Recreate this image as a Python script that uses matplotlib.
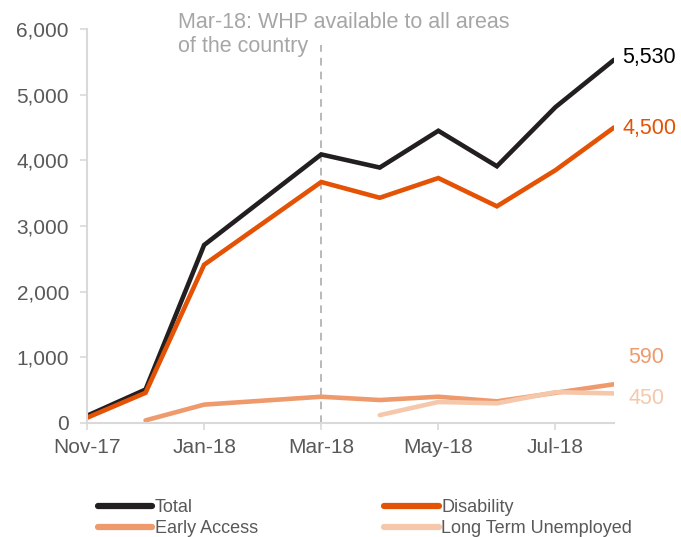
import matplotlib
matplotlib.use("Agg")
import matplotlib.pyplot as plt
import numpy as np

months = ["Nov-17", "Dec-17", "Jan-18", "Feb-18", "Mar-18", "Apr-18",
          "May-18", "Jun-18", "Jul-18", "Aug-18"]

total = [110, 510, 2710, 3400, 4090, 3890, 4450, 3910, 4810, 5530]
disability = [80, 460, 2410, 3040, 3670, 3430, 3730, 3300, 3850, 4500]
early_access = [None, 40, 280, 340, 400, 350, 400, 330, 460, 590]
long_term = [None, None, None, None, None, 120, 320, 300, 470, 450]

series = [
    ("Total", total, "#231f20"),
    ("Disability", disability, "#e35205"),
    ("Early Access", early_access, "#ef9a6d"),
    ("Long Term Unemployed", long_term, "#f6c8ab"),
]

plt.rcParams["font.family"] = ["Liberation Sans", "DejaVu Sans"]
grey = "#595959"
spine = "#d9d9d9"

fig = plt.figure(figsize=(6.81, 5.37), dpi=100)
ax = fig.add_axes([87 / 681, 1 - 423 / 537, (614 - 87) / 681, (423 - 29) / 537])

x = np.arange(len(months))
handles = {}
for name, vals, col in series:
    y = np.array([np.nan if v is None else v for v in vals], dtype=float)
    handles[name], = ax.plot(x, y, color=col, lw=3.3, label=name,
                             solid_capstyle="round", solid_joinstyle="miter")

# end labels
ax.text(9.14, 5570, "5,530", color="#000000", fontsize=15.5, va="center", clip_on=False)
ax.text(9.14, 4480, "4,500", color="#e35205", fontsize=15.5, va="center", clip_on=False)
ax.text(9.24, 1000, "590", color="#ef9a6d", fontsize=15.5, va="center", clip_on=False)
ax.text(9.24, 380, "450", color="#f6c8ab", fontsize=15.5, va="center", clip_on=False)

# Mar-18 marker
ax.plot([4, 4], [0, 5750], color="#a6a6a6", lw=1.1, ls=(0, (5, 4)), zorder=0)
ax.text(1.55, 6260, "Mar-18: WHP available to all areas\nof the country",
        color="#a6a6a6", fontsize=15.5, va="top", ha="left", linespacing=1.2,
        clip_on=False)

ax.set_xlim(0, 9)
ax.set_ylim(0, 6000)
ax.set_xticks(x[::2])
ax.set_xticklabels(months[::2])
ax.set_yticks(range(0, 6001, 1000))
ax.set_yticklabels([f"{v:,}" for v in range(0, 6001, 1000)])
ax.tick_params(axis="both", colors=spine, labelcolor=grey, labelsize=15, width=1.2)
ax.tick_params(axis="y", length=5, pad=8)
ax.tick_params(axis="x", length=5, pad=6)

for s in ["top", "right"]:
    ax.spines[s].set_visible(False)
for s in ["left", "bottom"]:
    ax.spines[s].set_color(spine)
    ax.spines[s].set_linewidth(1.5)

order = ["Total", "Early Access", "Disability", "Long Term Unemployed"]
leg = fig.legend([handles[k] for k in order], order,
                 loc="lower left", bbox_to_anchor=(98 / 681, 0.0), ncol=2,
                 frameon=False, fontsize=13, handlelength=3.0, handletextpad=0.15,
                 columnspacing=7.0, labelspacing=0.2, borderpad=0, borderaxespad=0)
for h in leg.get_lines():
    h.set_linewidth(4.5)
for t in leg.get_texts():
    t.set_color(grey)

fig.savefig("out.png", dpi=100)
